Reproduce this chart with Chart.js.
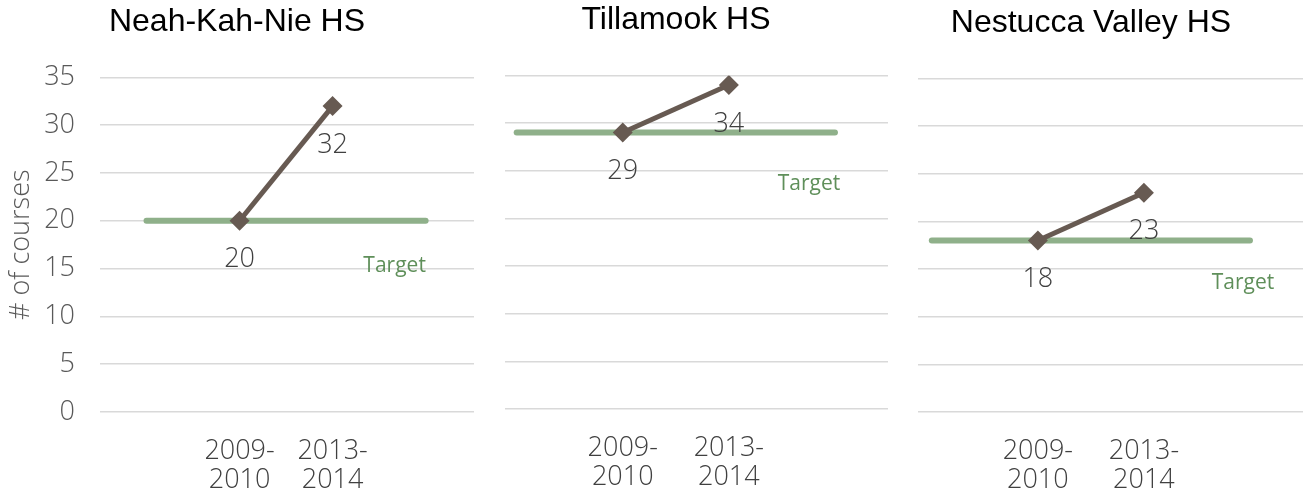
<!DOCTYPE html>
<html>
<head>
<meta charset="utf-8">
<script src="https://cdn.jsdelivr.net/npm/chart.js@4.4.1/dist/chart.umd.min.js"></script>
<style>
  body { margin: 0; background: #fff; }
  #wrap { position: relative; width: 1305px; height: 494px; }
  .panel { position: absolute; top: 0; height: 494px; }
</style>
</head>
<body>
<div id="wrap">
  <div class="panel" style="left:0;width:474px"><canvas id="c0"></canvas></div>
  <div class="panel" style="left:464px;width:424px"><canvas id="c1"></canvas></div>
  <div class="panel" style="left:879px;width:424px"><canvas id="c2"></canvas></div>
</div>
<script>
// data
const schools = ['Neah-Kah-Nie HS', 'Tillamook HS', 'Nestucca Valley HS'];
const periods = [['2009-', '2010'], ['2013-', '2014']];
const courses = [[20, 32], [29, 34], [18, 23]];
const targets = [20, 29, 18];
const yTicks = [0, 5, 10, 15, 20, 25, 30, 35];

// layout per panel (x range so the points land like the original)
const panelStyle = [
  { xMin: -0.5, xMax: 3.52, yWidth: 100, padTop: 0, bottom: 82, labelDx: -31, labelDy: 45 },
  { xMin: -0.11, xMax: 3.5, yWidth: 41, padTop: -2, bottom: 85, labelDx: -26, labelDy: 51 },
  { xMin: -0.13, xMax: 3.5, yWidth: 39, padTop: 1, bottom: 82, labelDx: -7, labelDy: 43 }
];

const lightFont = '"Open Sans", "DejaVu Sans", sans-serif';

// value labels + "Target" label
const pointLabels = {
  id: 'pointLabels',
  afterDatasetsDraw(chart, args, opts) {
    const ctx = chart.ctx;
    ctx.save();
    ctx.textAlign = 'center';
    ctx.textBaseline = 'middle';
    ctx.font = '300 27px ' + lightFont;
    ctx.fillStyle = '#404040';
    const ds = chart.data.datasets[0];
    chart.getDatasetMeta(0).data.forEach((pt, i) => {
      ctx.fillText(ds.data[i].y, pt.x, pt.y + 39);
    });
    const tdata = chart.getDatasetMeta(1).data;
    const last = tdata[tdata.length - 1];
    ctx.font = '21px ' + lightFont;
    ctx.fillStyle = '#5f8f5a';
    ctx.fillText('Target', last.x + opts.dx, last.y + opts.dy);
    ctx.restore();
  }
};

schools.forEach((name, p) => {
  const st = panelStyle[p];
  const first = p === 0;
  new Chart(document.getElementById('c' + p), {
    type: 'line',
    data: {
      datasets: [{
        label: name,
        data: courses[p].map((v, i) => ({ x: i + 1, y: v })),
        borderColor: '#675a52',
        backgroundColor: '#675a52',
        borderWidth: 5,
        pointStyle: 'rectRot',
        pointRadius: 10,
        pointBorderWidth: 0
      }, {
        label: 'Target',
        data: [{ x: 0, y: targets[p] }, { x: 3, y: targets[p] }],
        borderColor: '#8fb08a',
        borderWidth: 6,
        borderCapStyle: 'round',
        pointRadius: 0
      }]
    },
    options: {
      responsive: true,
      maintainAspectRatio: false,
      animation: false,
      layout: {
        autoPadding: false,
        padding: { left: 0, right: 0, top: st.padTop, bottom: 0 }
      },
      plugins: {
        legend: { display: false },
        tooltip: { enabled: false },
        title: {
          display: true,
          text: name,
          color: '#000',
          font: { family: '"Liberation Sans Narrow", "Liberation Sans", sans-serif', size: 32, weight: 'normal' },
          padding: { top: 3, bottom: 36 }
        },
        pointLabels: { dx: st.labelDx, dy: st.labelDy }
      },
      scales: {
        x: {
          type: 'linear',
          min: st.xMin,
          max: st.xMax,
          afterBuildTicks: axis => { axis.ticks = periods.map((_, i) => ({ value: i + 1 })); },
          afterFit: axis => { axis.height = st.bottom; },
          grid: { display: false },
          border: { display: false },
          ticks: {
            autoSkip: false,
            maxRotation: 0,
            padding: 16,
            color: '#404040',
            font: { family: lightFont, size: 27, weight: 300, lineHeight: 1.1 },
            callback: v => periods[v - 1]
          }
        },
        y: {
          min: 0,
          max: 35,
          afterBuildTicks: axis => { axis.ticks = yTicks.map(v => ({ value: v })); },
          afterFit: axis => { axis.width = st.yWidth; },
          grid: { color: '#d9d9d9', lineWidth: 1.5, drawTicks: false },
          border: { display: false },
          ticks: {
            display: first,
            padding: 25,
            color: '#595959',
            font: { family: lightFont, size: 27, weight: 300 }
          },
          title: {
            display: first,
            text: '# of courses',
            color: '#595959',
            font: { family: lightFont, size: 27, weight: 300 },
            padding: { top: 5, bottom: 0 }
          }
        }
      }
    },
    plugins: [pointLabels]
  });
});
</script>
</body>
</html>
